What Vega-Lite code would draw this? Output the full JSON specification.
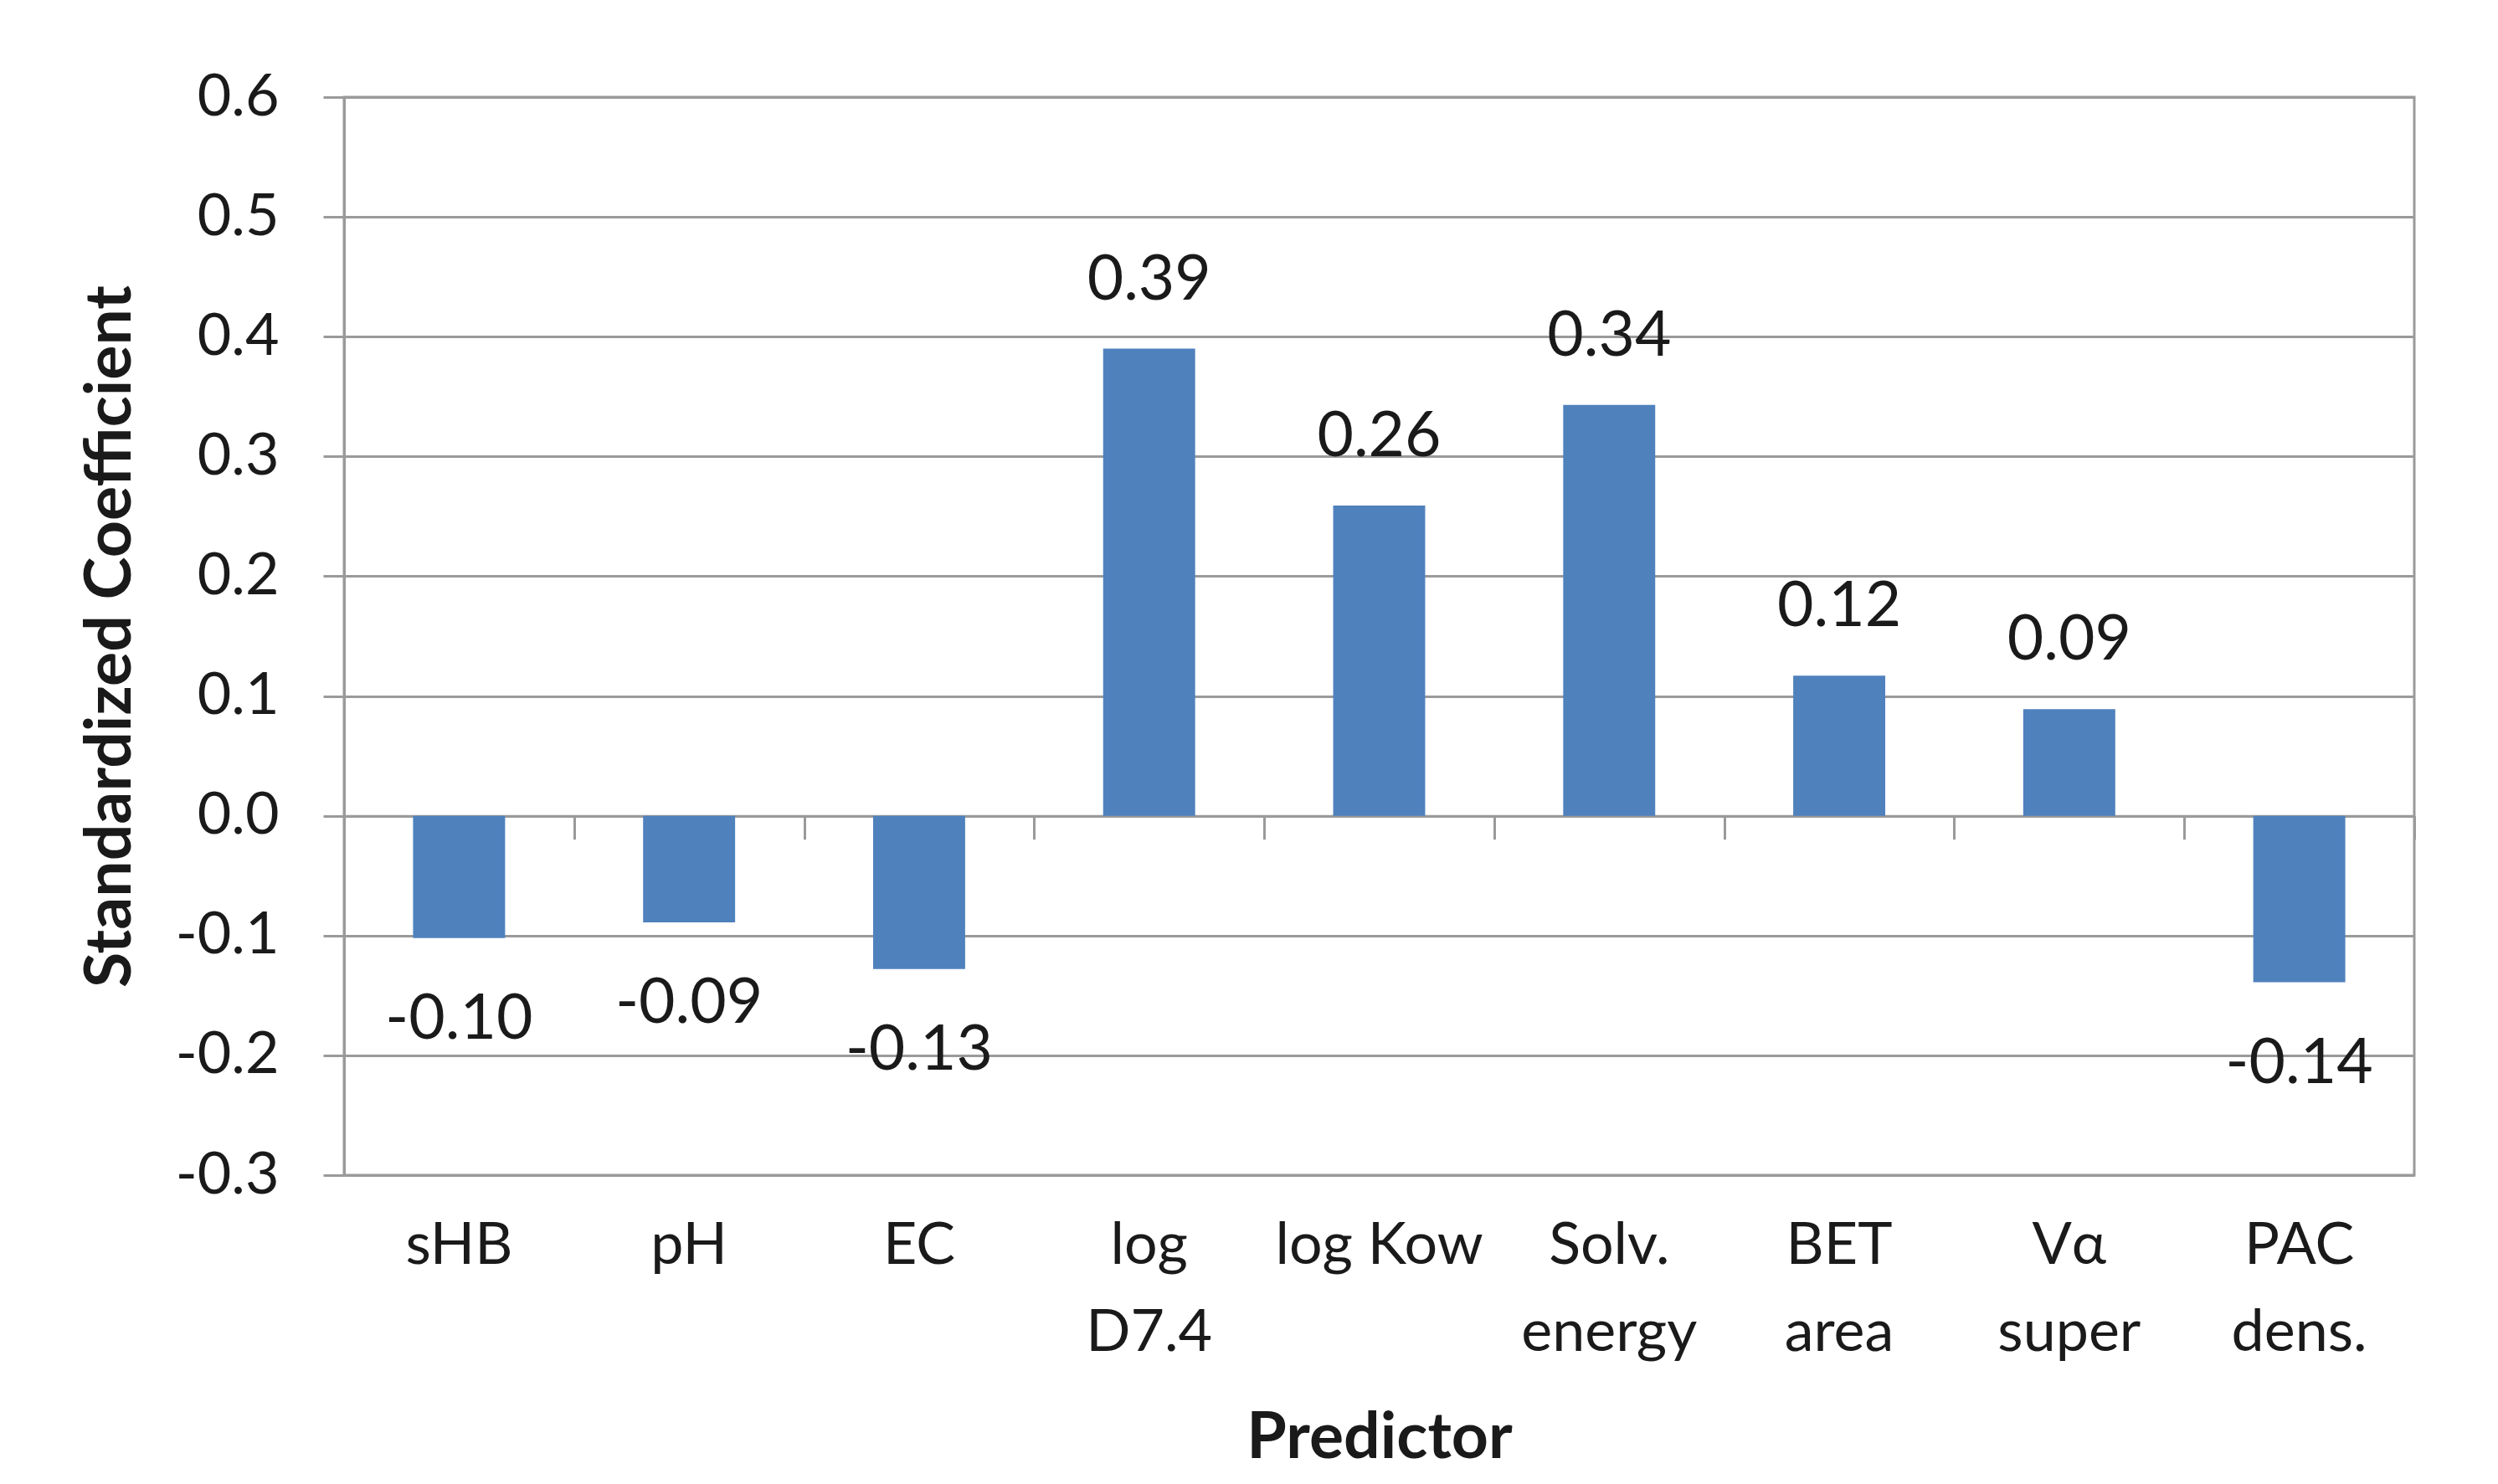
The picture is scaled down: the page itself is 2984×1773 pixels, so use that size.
{
  "$schema": "https://vega.github.io/schema/vega-lite/v6.json",
  "autosize": {"type": "none"},
  "padding": {"left": 411, "top": 116, "right": 100, "bottom": 369},
  "width": 2473,
  "height": 1288,
  "background": "white",
  "config": {
    "font": "Lato",
    "view": {"stroke": "#9a9a9a", "strokeWidth": 3},
    "axis": {
      "labelFont": "Lato",
      "titleFont": "Lato",
      "labelColor": "#1a1a1a",
      "titleColor": "#1a1a1a",
      "labelFontSize": 70,
      "titleFontSize": 77,
      "titleFontWeight": "bold",
      "labelLimit": 600
    }
  },
  "data": {
    "values": [
      {"predictor": "sHB", "value": -0.102, "label": "-0.10"},
      {"predictor": "pH", "value": -0.089, "label": "-0.09"},
      {"predictor": "EC", "value": -0.128, "label": "-0.13"},
      {"predictor": "log D7.4", "value": 0.39, "label": "0.39"},
      {"predictor": "log Kow", "value": 0.259, "label": "0.26"},
      {"predictor": "Solv. energy", "value": 0.343, "label": "0.34"},
      {"predictor": "BET area", "value": 0.117, "label": "0.12"},
      {"predictor": "Vα super", "value": 0.089, "label": "0.09"},
      {"predictor": "PAC dens.", "value": -0.139, "label": "-0.14"}
    ]
  },
  "layer": [
    {
      "mark": {"type": "bar", "color": "#4F81BD"},
      "encoding": {
        "x": {
          "field": "predictor",
          "type": "nominal",
          "sort": null,
          "scale": {"paddingInner": 0.6, "paddingOuter": 0.3},
          "axis": {
            "orient": "bottom",
            "domain": false,
            "ticks": false,
            "grid": false,
            "labelAngle": 0,
            "labelPadding": 50,
            "labelLineHeight": 104,
            "labelExpr": "datum.label == 'log Kow' ? datum.label : split(datum.label, ' ')",
            "title": "Predictor",
            "titlePadding": 76
          }
        },
        "y": {
          "field": "value",
          "type": "quantitative",
          "scale": {"domain": [-0.3, 0.6], "nice": false, "zero": false},
          "axis": {
            "values": [-0.3, -0.2, -0.1, 0, 0.1, 0.2, 0.3, 0.4, 0.5, 0.6],
            "labelExpr": "replace(format(datum.value, '.1f'), '\u2212', '-')",
            "grid": true,
            "gridColor": "#9a9a9a",
            "gridWidth": 3,
            "domain": true,
            "domainColor": "#9a9a9a",
            "domainWidth": 3,
            "ticks": true,
            "tickColor": "#9a9a9a",
            "tickWidth": 3,
            "tickSize": 25,
            "labelPadding": 53,
            "title": "Standardized Coefficient",
            "titlePadding": 40
          }
        }
      }
    },
    {
      "transform": [{"filter": "datum.value >= 0"}],
      "mark": {"type": "text", "fontSize": 75, "font": "Lato", "color": "#1a1a1a", "baseline": "alphabetic", "align": "center", "dy": -59},
      "encoding": {
        "x": {"field": "predictor", "type": "nominal", "sort": null, "axis": null},
        "y": {"field": "value", "type": "quantitative"},
        "text": {"field": "label"}
      }
    },
    {
      "transform": [{"filter": "datum.value < 0"}],
      "mark": {"type": "text", "fontSize": 75, "font": "Lato", "color": "#1a1a1a", "baseline": "alphabetic", "align": "center", "dy": 120},
      "encoding": {
        "x": {"field": "predictor", "type": "nominal", "sort": null, "axis": null},
        "y": {"field": "value", "type": "quantitative"},
        "text": {"field": "label"}
      }
    },
    {
      "mark": {"type": "bar", "opacity": 0},
      "encoding": {
        "x": {
          "field": "predictor",
          "type": "nominal",
          "sort": null,
          "axis": {
            "orient": "bottom",
            "offset": -429.33,
            "labels": false,
            "title": null,
            "grid": false,
            "domain": true,
            "domainColor": "#9a9a9a",
            "domainWidth": 3,
            "ticks": true,
            "tickBand": "center",
            "tickOffset": 137.4,
            "tickColor": "#9a9a9a",
            "tickWidth": 3,
            "tickSize": 28
          }
        },
        "y": {"field": "value", "type": "quantitative"}
      }
    }
  ],
  "resolve": {"axis": {"x": "independent"}}
}
